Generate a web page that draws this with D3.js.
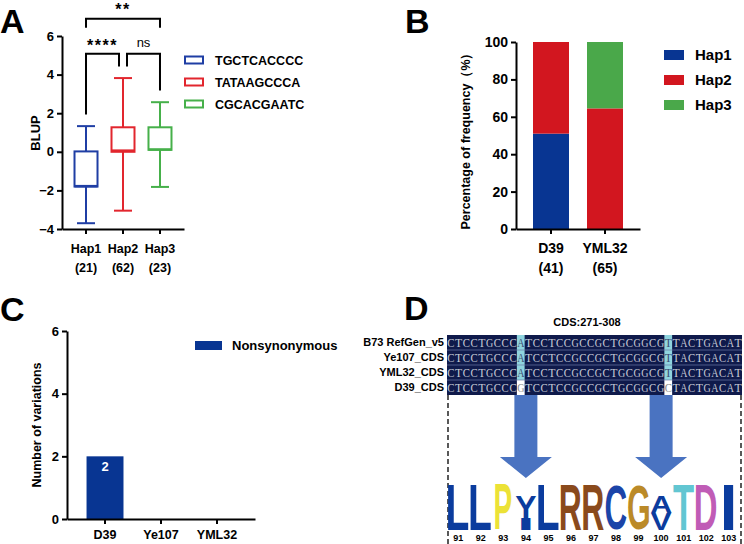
<!DOCTYPE html>
<html><head><meta charset="utf-8">
<script src="https://cdn.jsdelivr.net/npm/d3@7"></script>
<style>
body{margin:0;background:#fff;}
svg{display:block;font-family:"Liberation Sans",Arial,sans-serif;font-weight:bold;}
</style></head><body>
<svg id="fig" width="744" height="544"></svg>
<script>
// ---- panel A data
var hapNames = ["Hap1","Hap2","Hap3"];
var hapCounts = [21,62,23];
var hapSeqs = ["TGCTCACCCC","TATAAGCCCA","CGCACGAATC"];
var boxMin = [-3.7,-3.05,-1.82];
var boxQ1 = [-1.8,0.0,0.1];
var boxMed = [-1.78,0.06,0.12];
var boxQ3 = [0.02,1.27,1.27];
var boxMax = [1.33,3.82,2.57];
var sigLeft = ["Hap1","Hap1","Hap2"];
var sigRight = ["Hap3","Hap2","Hap3"];
var sigText = ["**","****","ns"];
var sigTop = [6.9,5.08,5.08];
var sigLegL = [6.43,1.93,4.42];
var sigLegR = [6.43,4.42,3.17];

// ---- panel B data
var bCats = ["D39","YML32"];
var bCounts = [41,65];
var bHap1 = [51,0];
var bHap2 = [49,64.5];
var bHap3 = [0,35.5];

// ---- panel C data
var cCats = ["D39","Ye107","YML32"];
var cVals = [2,0,0];

// ---- panel D data
var alnNames = ["B73 RefGen_v5","Ye107_CDS","YML32_CDS","D39_CDS"];
var alnSeqs = [
  "CTCCTGCCCATCCTCCGCCGCTGCGGCGTTACTGACAT",
  "CTCCTGCCCATCCTCCGCCGCTGCGGCGTTACTGACAT",
  "CTCCTGCCCATCCTCCGCCGCTGCGGCGTTACTGACAT",
  "CTCCTGCCCGTCCTCCGCCGCTGCGGCGCTACTGACAT"];
var cdsStart = 271;
var logoPos = [91,92,93,94,95,96,97,98,99,100,101,102,103];
var logoStacks = [
  [["L",1]],[["L",1]],[["P",1]],[["I",0.27],["Y",0.47]],[["L",1]],[["R",1]],[["R",1]],
  [["C",1]],[["G",1]],[["V",0.38],["A",0.36]],[["T",1]],[["D",1]],[["I",1]]];

var hapLine = ["#1f3ea4","#e2262e","#46b04a"];
var hapFill = ["#083592","#d2161f","#4aa84a"];
var aaColor = {L:"#0b3c9e",P:"#ece236",Y:"#0b3c9e",I:"#0b3c9e",R:"#8a4a1c",C:"#1b44a8",G:"#bb8a28",A:"#0b3c9e",V:"#0b3c9e",T:"#62c6d2",D:"#c05cb6"};

var svg = d3.select("#fig");

function styleAxis(g, fs){
  g.selectAll("path,line").attr("stroke","#000").attr("stroke-width",2);
  g.selectAll("text").attr("fill","#000").style("font-size",fs+"px").style("font-weight","bold")
    .style("font-family","'Liberation Sans',Arial,sans-serif");
}
function panelLabel(t,x,y){
  svg.append("text").attr("x",x).attr("y",y).text(t).style("font-size","34px");
}

// ================= A
panelLabel("A",0,33);
var xA = d3.scaleBand().domain(hapNames).range([62,184]).paddingOuter(0.149);
var yA = d3.scaleLinear().domain([-4,6]).range([229,36]);
var gAy = svg.append("g").attr("transform","translate(62,0)")
  .call(d3.axisLeft(yA).tickValues([-4,-2,0,2,4,6]).tickSize(5).tickSizeOuter(0).tickPadding(3));
styleAxis(gAy,13);
var gAx = svg.append("g").attr("transform","translate(0,229)")
  .call(d3.axisBottom(xA).tickSize(5).tickSizeOuter(0).tickFormat(""));
styleAxis(gAx,13);
function cxA(n){ return xA(n)+xA.bandwidth()/2; }
hapNames.forEach(function(n,i){
  var cx = cxA(n), c = hapLine[i], g = svg.append("g");
  g.append("line").attr("x1",cx).attr("x2",cx).attr("y1",yA(boxMax[i])).attr("y2",yA(boxMin[i]))
    .attr("stroke",c).attr("stroke-width",2);
  [boxMax[i],boxMin[i]].forEach(function(v){
    g.append("line").attr("x1",cx-9).attr("x2",cx+9).attr("y1",yA(v)).attr("y2",yA(v))
      .attr("stroke",c).attr("stroke-width",2);
  });
  g.append("rect").attr("x",cx-11.5).attr("width",23).attr("y",yA(boxQ3[i]))
    .attr("height",yA(boxQ1[i])-yA(boxQ3[i])).attr("fill","#fff").attr("stroke",c).attr("stroke-width",2);
  g.append("line").attr("x1",cx-11.5).attr("x2",cx+11.5).attr("y1",yA(boxMed[i])).attr("y2",yA(boxMed[i]))
    .attr("stroke",c).attr("stroke-width",2.5);
  svg.append("text").attr("x",cx).attr("y",253).attr("text-anchor","middle").text(n).style("font-size","12.5px");
  svg.append("text").attr("x",cx).attr("y",272).attr("text-anchor","middle").text("("+hapCounts[i]+")").style("font-size","12.5px");
});
sigText.forEach(function(t,i){
  var xa = cxA(sigLeft[i]) + (sigLeft[i]==="Hap2"?4:0);
  var xb = cxA(sigRight[i]) - (sigRight[i]==="Hap2"?4:0);
  svg.append("path").attr("fill","none").attr("stroke","#000").attr("stroke-width",2)
    .attr("d","M"+xa+","+yA(sigLegL[i])+"V"+yA(sigTop[i])+"H"+xb+"V"+yA(sigLegR[i]));
  var tt = svg.append("text").attr("x",(xa+xb)/2).attr("text-anchor","middle").text(t);
  if (t==="ns") tt.attr("y",yA(sigTop[i])-7).style("font-size","13px").style("font-weight","normal");
  else tt.attr("y",yA(sigTop[i])+(i===0?-4:-3)).style("font-size","16px").style("letter-spacing","1.5px");
});
var lyA = d3.scalePoint().domain(hapSeqs).range([60,104]);
hapSeqs.forEach(function(s,i){
  svg.append("rect").attr("x",185).attr("y",lyA(s)-3.5).attr("width",18).attr("height",7)
    .attr("fill","#fff").attr("stroke",hapLine[i]).attr("stroke-width",2);
  svg.append("text").attr("x",215).attr("y",lyA(s)).attr("dy","0.36em").text(s).style("font-size","12.5px");
});
svg.append("text").attr("transform","translate(40,133) rotate(-90)").attr("text-anchor","middle")
  .text("BLUP").style("font-size","13px");

// ================= B
panelLabel("B",405,33);
var bKeys = ["Hap1","Hap2","Hap3"];
var bTable = bCats.map(function(c,i){ return {cat:c,Hap1:bHap1[i],Hap2:bHap2[i],Hap3:bHap3[i]}; });
var bStack = d3.stack().keys(bKeys)(bTable);
var xB = d3.scaleBand().domain(bCats).range([516,640]).paddingInner(1/3).paddingOuter(0.315);
var yB = d3.scaleLinear().domain([0,100]).range([229,42]);
bStack.forEach(function(layer,k){
  svg.append("g").selectAll("rect").data(layer).enter().append("rect")
    .attr("x",function(d){ return xB(d.data.cat); })
    .attr("width",xB.bandwidth())
    .attr("y",function(d){ return yB(d[1]); })
    .attr("height",function(d){ return yB(d[0])-yB(d[1]); })
    .attr("fill",hapFill[k]);
});
var gBy = svg.append("g").attr("transform","translate(516,0)")
  .call(d3.axisLeft(yB).tickValues([0,20,40,60,80,100]).tickSize(5).tickSizeOuter(0).tickPadding(3));
styleAxis(gBy,14);
var gBx = svg.append("g").attr("transform","translate(0,229)")
  .call(d3.axisBottom(xB).tickSize(5).tickSizeOuter(0).tickFormat(""));
styleAxis(gBx,14);
bCats.forEach(function(c,i){
  var cx = xB(c)+xB.bandwidth()/2;
  svg.append("text").attr("x",cx).attr("y",253).attr("text-anchor","middle").text(c).style("font-size","14px");
  svg.append("text").attr("x",cx).attr("y",273).attr("text-anchor","middle").text("("+bCounts[i]+")").style("font-size","14px");
});
var lyB = d3.scalePoint().domain(bKeys).range([55,105]);
bKeys.forEach(function(k,i){
  svg.append("rect").attr("x",664).attr("y",lyB(k)-5).attr("width",20).attr("height",10).attr("fill",hapFill[i]);
  svg.append("text").attr("x",695).attr("y",lyB(k)).attr("dy","0.36em").text(k).style("font-size","15px");
});
svg.append("text").attr("transform","translate(470,138) rotate(-90)").attr("text-anchor","middle")
  .text("Percentage of frequency（%）").style("font-size","12.5px");

// ================= C
panelLabel("C",0,321);
var xC = d3.scaleBand().domain(cCats).range([67,255]).paddingInner(0.34).paddingOuter(0.349);
var yC = d3.scaleLinear().domain([0,6]).range([519,331]);
svg.append("g").selectAll("rect").data(cVals).enter().append("rect")
  .attr("x",function(d,i){ return xC(cCats[i]); })
  .attr("width",xC.bandwidth())
  .attr("y",function(d){ return yC(d); })
  .attr("height",function(d){ return yC(0)-yC(d); })
  .attr("fill","#083592");
cVals.forEach(function(v,i){
  if (v>0) svg.append("text").attr("x",xC(cCats[i])+xC.bandwidth()/2).attr("y",yC(v)+15)
    .attr("text-anchor","middle").attr("fill","#fff").text(v).style("font-size","13px");
});
var gCy = svg.append("g").attr("transform","translate(67,0)")
  .call(d3.axisLeft(yC).tickValues([0,2,4,6]).tickFormat(d3.format("d")).tickSize(5).tickSizeOuter(0).tickPadding(3));
styleAxis(gCy,13);
var gCx = svg.append("g").attr("transform","translate(0,519)")
  .call(d3.axisBottom(xC).tickSize(5).tickSizeOuter(0).tickPadding(6));
styleAxis(gCx,12.5);
svg.append("rect").attr("x",195).attr("y",341).attr("width",27).attr("height",9).attr("fill","#083592");
svg.append("text").attr("x",232).attr("y",345.5).attr("dy","0.36em").text("Nonsynonymous").style("font-size","13px");
svg.append("text").attr("transform","translate(41,425) rotate(-90)").attr("text-anchor","middle")
  .text("Number of variations").style("font-size","12.5px");

// ================= D
panelLabel("D",404,320);
var nCol = alnSeqs[0].length;
var xS = d3.scaleBand().domain(d3.range(nCol)).range([447,742]);
var yS = d3.scaleBand().domain(alnNames).range([335,395]);
svg.append("text").attr("x",587).attr("y",326).attr("text-anchor","middle").text("CDS:"+cdsStart+"-"+(cdsStart+nCol-1))
  .style("font-size","11px");
svg.append("rect").attr("x",447).attr("y",335).attr("width",295).attr("height",60).attr("fill","#0f1a4b");
var varCols = d3.range(nCol).filter(function(j){
  return alnSeqs.some(function(s){ return s[j]!==alnSeqs[0][j]; });
});
alnNames.forEach(function(n,r){
  var y0 = yS(n), h = yS.bandwidth();
  svg.append("text").attr("x",444).attr("y",y0+h/2).attr("dy","0.36em").attr("text-anchor","end")
    .text(n).style("font-size","11px");
  varCols.forEach(function(j){
    svg.append("rect").attr("x",xS(j)).attr("y",y0).attr("width",xS.bandwidth()).attr("height",h)
      .attr("fill", alnSeqs[r][j]===alnSeqs[0][j] ? "#8fd4de" : "#ffffff");
  });
  if (r>0) svg.append("line").attr("x1",447).attr("x2",742).attr("y1",y0).attr("y2",y0)
    .attr("stroke","#6b7aa8").attr("stroke-width",0.7);
  alnSeqs[r].split("").forEach(function(ch,j){
    var hl = varCols.indexOf(j)>=0;
    svg.append("text").attr("x",xS(j)+xS.bandwidth()/2).attr("y",y0+h/2).attr("dy","0.35em")
      .attr("text-anchor","middle").attr("textLength",7.2).attr("lengthAdjust","spacingAndGlyphs")
      .attr("fill", hl ? (alnSeqs[r][j]===alnSeqs[0][j] ? "#3b4d72" : "#8a8a8a") : "#c6cad6")
      .style("font-family","'Liberation Serif',serif").style("font-weight","normal").style("font-size","13.5px")
      .text(ch);
  });
});
// dashed frame
svg.append("path").attr("d","M448,395V544M741,395V544").attr("stroke","#000").attr("stroke-width",1.3)
  .attr("stroke-dasharray","5,3").attr("fill","none");

// logo
var xL = d3.scaleBand().domain(logoPos).range([447,740]);
var yL = d3.scaleLinear().domain([0,1]).range([530,485]);
// arrows from variable columns to their codon
varCols.forEach(function(j){
  var aa = Math.ceil((cdsStart+j)/3);
  var cx = xL(aa)+xL.bandwidth()/2;
  var pts = [[cx-11.5,395],[cx+11.5,395],[cx+11.5,457],[cx+26,457],[cx,478],[cx-26,457],[cx-11.5,457]];
  svg.append("polygon").attr("points",pts.map(function(p){ return p.join(","); }).join(" "))
    .attr("fill","#4a73c1");
});
var ctx = document.createElement("canvas").getContext("2d");
ctx.font = "bold 100px 'Liberation Sans'";
var widthFrac = {I:0.45,P:0.72};
logoStacks.forEach(function(stack,i){
  var pos = logoPos[i], bw = xL.bandwidth(), base = 0;
  stack.forEach(function(e){
    var ch = e[0], hgt = e[1];
    var m = ctx.measureText(ch);
    var l = -m.actualBoundingBoxLeft, r = m.actualBoundingBoxRight;
    var t = -m.actualBoundingBoxAscent, b = m.actualBoundingBoxDescent;
    var w = bw*(widthFrac[ch]||0.92);
    var x0 = xL(pos)+(bw-w)/2, y0 = yL(base+hgt), hpx = yL(base)-yL(base+hgt);
    svg.append("text").attr("x",0).attr("y",0).text(ch)
      .attr("fill",aaColor[ch]).style("font-size","100px")
      .attr("transform","translate("+x0+","+y0+") scale("+(w/(r-l))+","+(hpx/(b-t))+") translate("+(-l)+","+(-t)+")");
    base += hgt;
  });
  svg.append("text").attr("x",xL(pos)+bw/2).attr("y",541).attr("text-anchor","middle")
    .text(pos).style("font-size","9px");
});
</script>
</body></html>
